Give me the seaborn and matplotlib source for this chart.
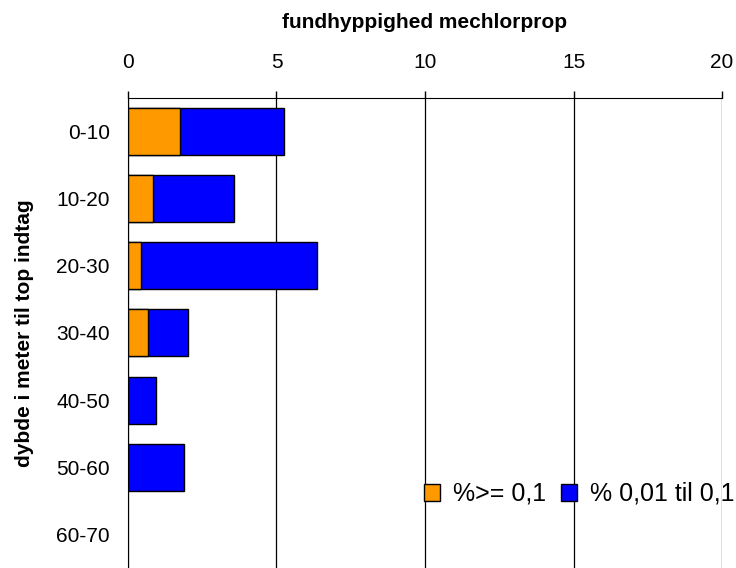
import numpy as np
import pandas as pd
import matplotlib
matplotlib.use("Agg")
import matplotlib.pyplot as plt
import seaborn as sns
from matplotlib.patches import Patch

# Data
depths = ["0-10", "10-20", "20-30", "30-40", "40-50", "50-60", "60-70"]
pct_high = [1.75, 0.85, 0.43, 0.68, 0.0, 0.0, 0.0]      # %>= 0,1
pct_low = [3.51, 2.73, 5.93, 1.33, 0.93, 1.89, 0.0]     # % 0,01 til 0,1
x_ticks = [0, 5, 10, 15, 20]

ORANGE = "#FF9900"
BLUE = "#0000FF"

sns.set_style("white")
plt.rcParams["font.family"] = ["Liberation Sans", "DejaVu Sans"]
plt.rcParams["text.color"] = "black"

df = pd.DataFrame({"depth": depths, "high": pct_high, "low": pct_low})
df["total"] = df["high"] + df["low"]

fig = plt.figure(figsize=(7.36, 5.68), dpi=100)
ax = fig.add_axes([0.1739, 0.0, 0.8071, 0.8275])

# stacked bars: total in blue, orange part drawn on top
sns.barplot(data=df, x="total", y="depth", orient="h", color=BLUE,
            saturation=1, width=0.7, edgecolor="black", linewidth=1, ax=ax)
sns.barplot(data=df, x="high", y="depth", orient="h", color=ORANGE,
            saturation=1, width=0.7, edgecolor="black", linewidth=1, ax=ax)
# no outline for empty bars
for p in ax.patches:
    if p.get_width() == 0:
        p.set_visible(False)

ax.set_xlim(0, 20)
ax.set_ylim(len(depths) - 0.5, -0.5)
ax.xaxis.tick_top()
ax.xaxis.set_label_position("top")
ax.set_xticks(x_ticks)
ax.set_xticklabels([str(t) for t in x_ticks], fontsize=15)
ax.tick_params(axis="x", direction="out", length=5, width=1, color="black",
               labelcolor="black", pad=14)
ax.grid(axis="x", color="black", linewidth=0.9)
ax.set_axisbelow(True)

ax.set_yticks(range(len(depths)))
ax.set_yticklabels(depths, fontsize=15)
ax.tick_params(axis="y", which="major", length=0, pad=13, labelcolor="black")
ax.set_yticks(np.arange(-0.5, len(depths) - 0.5, 1), minor=True)
ax.tick_params(axis="y", which="minor", direction="out", length=6, width=1, color="#555555")

ax.set_xlabel("fundhyppighed mechlorprop", fontsize=15, fontweight="bold",
              labelpad=18, color="black")
ax.set_ylabel("dybde i meter til top indtag", fontsize=15, fontweight="bold",
              labelpad=16, color="black")

for side in ["right", "bottom"]:
    ax.spines[side].set_visible(False)
ax.spines["top"].set_color("black")
ax.spines["left"].set_color("black")

handles = [Patch(facecolor=ORANGE, edgecolor="black", label="%>= 0,1"),
           Patch(facecolor=BLUE, edgecolor="black", label="% 0,01 til 0,1")]
ax.legend(handles=handles, loc="center right", bbox_to_anchor=(734 / 736, 1 - 494 / 568),
          bbox_transform=fig.transFigure, ncol=2, frameon=False, fontsize=18,
          borderpad=0, borderaxespad=0, handlelength=0.65, handleheight=0.65,
          handletextpad=0.5, columnspacing=0.6)

fig.savefig("out.png", dpi=100)
